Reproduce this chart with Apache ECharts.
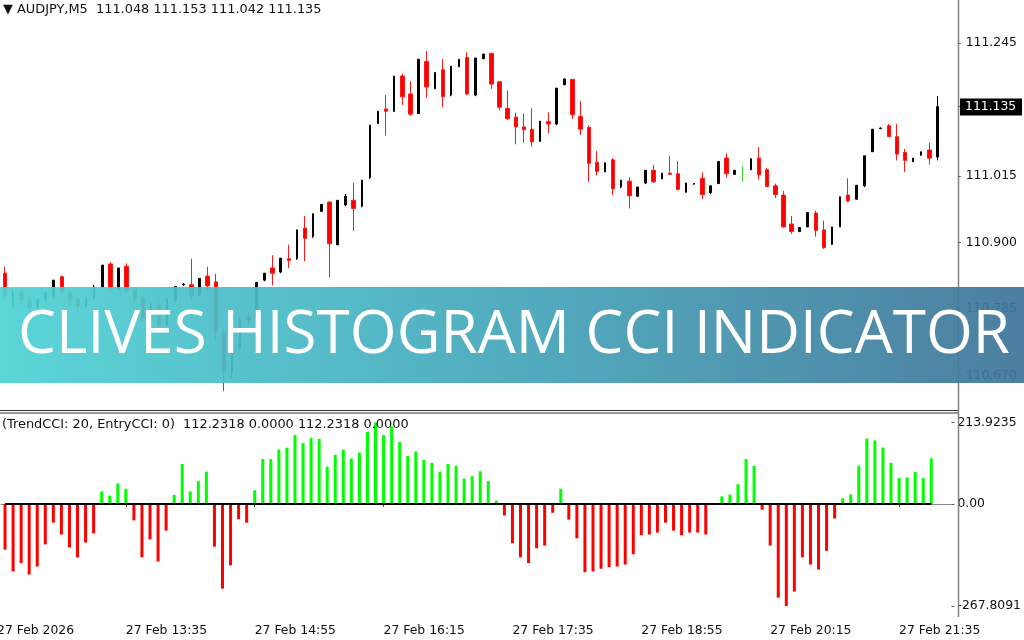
<!DOCTYPE html>
<html><head><meta charset="utf-8">
<script src="https://cdn.jsdelivr.net/npm/echarts@6/dist/echarts.min.js"></script>
<style>html,body{margin:0;padding:0;background:#fff}#c{width:1024px;height:640px}</style>
</head><body><div id="c"></div>
<script>
// ---------------- data ----------------
const headerText = '\u25BC AUDJPY,M5  111.048 111.153 111.042 111.135';
const indicatorText = '(TrendCCI: 20, EntryCCI: 0)  112.2318 0.0000 112.2318 0.0000';
const bannerText = 'CLIVES HISTOGRAM CCI INDICATOR';

const open = [110.847,110.792,110.814,110.801,110.787,110.801,110.808,110.841,110.814,110.801,110.790,110.804,
110.823,110.863,110.821,110.859,110.818,110.804,110.770,110.792,110.757,110.801,110.827,110.827,110.809,110.842,
110.832,110.745,110.676,110.718,110.770,110.770,110.835,110.856,110.849,110.872,110.872,110.925,110.910,110.954,
110.970,110.896,110.965,110.973,110.963,111.012,111.106,111.131,111.127,111.188,111.157,111.123,111.213,111.166,
111.199,111.155,111.204,111.220,111.155,111.218,111.227,111.178,111.132,111.117,111.100,111.096,111.075,111.109,
111.105,111.173,111.182,111.118,111.099,111.039,111.022,111.043,110.996,111.006,110.980,111.003,111.025,111.010,
111.020,111.019,110.987,111.001,111.011,110.986,111.002,111.046,111.018,111.025,111.026,111.046,111.026,110.998,
110.982,110.932,110.919,110.927,110.951,110.922,110.897,110.927,110.982,110.975,110.998,111.057,111.097,111.102,
111.083,111.056,111.040,111.051,111.060,111.048];
const high = [110.858,110.821,110.820,110.808,110.804,110.816,110.835,110.843,110.818,110.806,110.808,110.827,
110.861,110.866,110.856,110.864,110.823,110.808,110.795,110.797,110.804,110.824,110.830,110.872,110.838,110.858,
110.846,110.752,110.723,110.770,110.780,110.831,110.847,110.878,110.873,110.896,110.922,110.946,110.950,110.966,
110.971,110.973,110.984,111.003,111.008,111.103,111.127,111.155,111.188,111.192,111.179,111.217,111.231,111.194,
111.217,111.205,111.217,111.229,111.219,111.226,111.228,111.179,111.163,111.125,111.123,111.132,111.110,111.125,
111.167,111.183,111.183,111.145,111.102,111.058,111.038,111.046,111.008,111.013,110.996,111.025,111.034,111.020,
111.050,111.041,111.003,111.003,111.021,110.998,111.040,111.054,111.025,111.032,111.045,111.065,111.029,111.002,
110.989,110.946,110.926,110.952,110.955,110.938,110.927,110.979,111.011,110.999,111.050,111.096,111.099,111.105,
111.105,111.062,111.046,111.057,111.073,111.153];
const low = [110.801,110.787,110.790,110.780,110.782,110.795,110.804,110.808,110.792,110.780,110.787,110.801,
110.820,110.814,110.818,110.811,110.797,110.763,110.766,110.749,110.754,110.797,110.825,110.801,110.806,110.818,
110.731,110.643,110.666,110.714,110.757,110.766,110.833,110.826,110.847,110.856,110.870,110.868,110.908,110.953,
110.840,110.896,110.963,110.920,110.961,111.010,111.105,111.085,111.126,111.138,111.119,111.122,111.150,111.166,
111.134,111.153,111.204,111.155,111.153,111.217,111.166,111.129,111.112,111.070,111.072,111.066,111.074,111.089,
111.103,111.172,111.114,111.086,111.005,111.016,111.022,110.982,110.994,110.959,110.979,111.001,111.003,111.010,
111.017,110.990,110.986,111.000,110.975,110.984,111.001,111.012,111.018,111.005,111.025,111.009,110.996,110.977,
110.926,110.915,110.918,110.927,110.910,110.889,110.896,110.927,110.970,110.974,110.996,111.057,111.096,111.083,
111.042,111.022,111.039,111.050,111.035,111.042];
const close = [110.809,110.814,110.801,110.787,110.801,110.813,110.835,110.814,110.801,110.790,110.804,110.823,
110.861,110.821,110.856,110.818,110.804,110.770,110.792,110.757,110.801,110.824,110.828,110.809,110.838,110.825,
110.745,110.676,110.718,110.766,110.766,110.831,110.847,110.847,110.873,110.869,110.922,110.907,110.950,110.966,
110.898,110.973,110.980,110.959,111.008,111.103,111.127,111.127,111.188,111.152,111.122,111.217,111.169,111.194,
111.152,111.205,111.217,111.157,111.219,111.226,111.174,111.134,111.114,111.100,111.095,111.074,111.110,111.105,
111.167,111.183,111.121,111.096,111.037,111.023,111.038,110.993,111.008,110.981,110.996,111.025,111.005,111.020,
111.018,110.992,111.003,111.002,110.983,110.998,111.040,111.019,111.025,111.025,111.045,111.017,110.997,110.983,
110.927,110.919,110.926,110.952,110.921,110.891,110.927,110.979,110.972,110.999,111.050,111.096,111.098,111.083,
111.053,111.042,111.046,111.057,111.046,111.135];
const cci = [-120,-177,-155,-185,-164,-106,-49,-80,-114,-140,-101,-77,
33,22,54,40,
-43,-140,-93,-151,-70,
24,105,33,60,85,
-112,-222,-161,-40,-49,
36,118,118,143,148,181,160,173,171,98,129,
143,119,135,189,213.9235,181,204,163,126,138,116,108,85,105,100,67,73,86,60,9,
-30,-103,-140,-155,-116,-109,-23,
40,
-41,-90,-179,-177,-170,-166,-164,-159,-132,-82,-80,-75,-49,-70,-82,-75,-75,-80,
0,
20,25,52,118,100,
-15,-109,-246,-267.8091,-230,-140,-159,-172,-123,-38,
15,25,100,172,167,148,108,68,70,84,68,120];
const priceTicks = [111.245, 111.135, 111.015, 110.900, 110.785, 110.670];
const cciTicks = [213.9235, 0, -267.8091];
const firstTimeLabel = '27 Feb 2026';
const timeTickIdx = [15, 31, 47, 63, 79, 95, 111];
const timeTickLabels = ['27 Feb 13:35','27 Feb 14:55','27 Feb 16:15','27 Feb 17:35','27 Feb 18:55','27 Feb 20:15','27 Feb 21:35'];

// ---------------- build ----------------
const TRAIL = 2;
const N = open.length + TRAIL;
const cats = [];
for (let i = 0; i < N; i++) cats.push(String(i));
const labelMap = {};
timeTickIdx.forEach((k, j) => labelMap[k] = timeTickLabels[j]);

const bull = [], bear = [];
for (let i = 0; i < open.length; i++) {
  const item = [i, open[i], close[i], low[i], high[i]];
  if (close[i] >= open[i]) bull.push(item); else bear.push(item);
}
const hist = [], zero = [];
for (let i = 0; i < N; i++) {
  if (i < cci.length) { hist.push(cci[i]); zero.push(0); }
  else { hist.push('-'); zero.push('-'); }
}

const FONT = 'DejaVu Sans';
const FS = 12.4;
const HFS = 12.9;
const GL = 1, GR = 66.3;

const option = {
  animation: false,
  backgroundColor: '#ffffff',
  grid: [
    {left: GL, right: GR, top: 0, height: 408},
    {left: GL, right: GR, top: 413, height: 204}
  ],
  xAxis: [
    {type: 'category', gridIndex: 0, data: cats, boundaryGap: true,
     axisLine: {show: false}, axisTick: {show: false}, axisLabel: {show: false}, splitLine: {show: false}},
    {type: 'category', gridIndex: 1, data: cats, boundaryGap: true,
     axisLine: {show: true, lineStyle: {color: '#8a8a8a', width: 1}},
     axisTick: {show: true, alignWithLabel: true, length: 3, lineStyle: {color: '#555'},
                interval: (idx) => labelMap[idx] !== undefined},
     axisLabel: {show: true, interval: (idx) => labelMap[idx] !== undefined,
                 formatter: (v, idx) => labelMap[idx] || '', align: 'left', margin: 8,
                 fontFamily: FONT, fontSize: FS, color: '#111'},
     splitLine: {show: false}}
  ],
  yAxis: [
    {type: 'value', gridIndex: 0, position: 'right', min: 110.6139, max: 111.3194, scale: true,
     axisLine: {show: false}, splitLine: {show: false},
     axisTick: {show: true, length: 3, customValues: priceTicks, lineStyle: {color: '#555'}},
     axisLabel: {show: true, customValues: priceTicks, formatter: (v) => v.toFixed(3), margin: 8,
                 fontFamily: FONT, fontSize: FS, color: '#111'}},
    {type: 'value', gridIndex: 1, position: 'right', min: -296.6, max: 238.9,
     axisLine: {show: false}, splitLine: {show: false},
     axisTick: {show: true, length: 3, customValues: cciTicks, lineStyle: {color: '#555'}},
     axisLabel: {show: true, customValues: cciTicks, formatter: (v) => v === 0 ? '0.00' : v.toFixed(4), margin: 6,
                 fontFamily: FONT, fontSize: FS, color: '#111'}}
  ],
  series: [
    {type: 'candlestick', xAxisIndex: 0, yAxisIndex: 0, data: bull, encode: {x: 0, y: [1, 2, 3, 4]},
     barWidth: 2, itemStyle: {color: '#000', borderColor: '#000', borderColorDoji: '#33dd33', borderWidth: 1}},
    {type: 'candlestick', xAxisIndex: 0, yAxisIndex: 0, data: bear, encode: {x: 0, y: [1, 2, 3, 4]},
     barWidth: 4, itemStyle: {color0: '#ff0000', borderColor0: '#ff1a1a', borderWidth: 1}},
    {type: 'bar', xAxisIndex: 1, yAxisIndex: 1, data: hist, barWidth: 3,
     itemStyle: {color: (p) => p.value >= 0 ? '#00ff00' : '#ff0000'}},
    {type: 'line', xAxisIndex: 1, yAxisIndex: 1, data: zero, symbol: 'none', z: 5,
     lineStyle: {color: '#000', width: 2}}
  ]
};

const chart = echarts.init(document.getElementById('c'));
chart.setOption(option);

// measure banner text to fit width
const BFS = 60;
const BW = 500;
const cv = document.createElement('canvas').getContext('2d');
cv.font = BW + ' ' + BFS + 'px "Open Sans"';
const bwidth = cv.measureText(bannerText).width;
const bScale = 992 / bwidth;

const yCur = chart.convertToPixel({yAxisIndex: 0}, close[close.length - 1]);
const yAxisBottom = 617;

chart.setOption({
  graphic: [
    {type: 'line', z: 50, shape: {x1: 958.5, y1: 0, x2: 958.5, y2: yAxisBottom}, style: {stroke: '#808080', lineWidth: 1.5}},
    {type: 'line', z: 50, shape: {x1: 0, y1: 410.5, x2: 958, y2: 410.5}, style: {stroke: '#333', lineWidth: 1}},
    {type: 'line', z: 50, shape: {x1: 0, y1: 413, x2: 958, y2: 413}, style: {stroke: '#333', lineWidth: 1.2}},
    {type: 'text', z: 50, x: 3, y: 10, style: {text: headerText, fontFamily: FONT, fontSize: HFS, fill: '#111', verticalAlign: 'middle'}},
    {type: 'text', z: 50, x: 2, y: 425, style: {text: indicatorText, fontFamily: FONT, fontSize: HFS, fill: '#111', verticalAlign: 'middle'}},
    {type: 'text', z: 50, x: -3, y: yAxisBottom + 8, style: {text: firstTimeLabel, fontFamily: FONT, fontSize: FS, fill: '#111', verticalAlign: 'top'}},
    {type: 'rect', z: 60, shape: {x: 960, y: Math.round(yCur) - 8.5, width: 62, height: 17}, style: {fill: '#000'}},
    {type: 'text', z: 61, x: 965, y: yCur, style: {text: close[close.length - 1].toFixed(3), fontFamily: FONT, fontSize: FS, fill: '#fff', verticalAlign: 'middle'}},
    {type: 'rect', z: 100, shape: {x: 0, y: 287, width: 1024, height: 96},
     style: {opacity: 0.93, fill: new echarts.graphic.LinearGradient(0, 0, 1, 0, [
       {offset: 0, color: '#4fd2d4'}, {offset: 0.5, color: '#45a6ba'}, {offset: 1, color: '#3f7598'}])}},
    {type: 'text', z: 101, x: 514, y: 336, scaleX: bScale, originX: 0, originY: 0,
     style: {text: bannerText, fontFamily: 'Open Sans', fontWeight: BW, fontSize: BFS, fill: '#ffffff',
             align: 'center', verticalAlign: 'middle'}}
  ]
});
</script>
</body></html>
